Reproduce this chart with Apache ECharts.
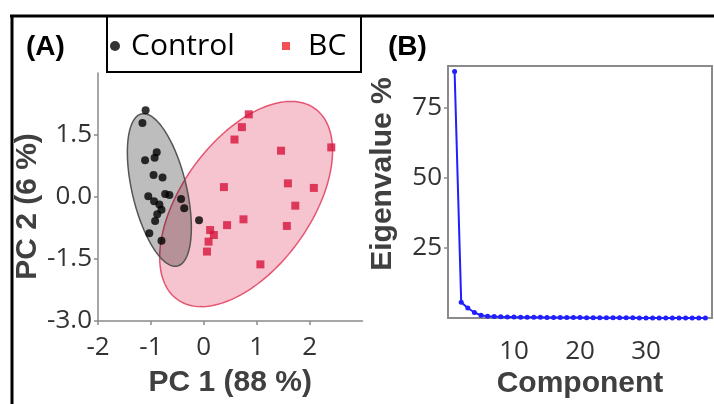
<!DOCTYPE html>
<html>
<head>
<meta charset="utf-8">
<script src="https://cdn.jsdelivr.net/npm/echarts@6/dist/echarts.min.js"></script>
<style>
html,body{margin:0;padding:0;background:#fff;}
#chart{width:714px;height:404px;}
</style>
</head>
<body>
<div id="chart"></div>
<script>
// ---- Panel A: PCA score plot ----
const controlX = [-1.10,-1.16,-0.89,-0.93,-1.11,-0.95,-0.78,-1.05,-0.73,-0.65,-0.94,-0.84,-0.80,-0.88,-0.92,-0.43,-0.37,-0.09,-1.03,-0.80];
const controlY = [2.10,1.79,1.08,0.95,0.89,0.53,0.47,0.02,0.07,0.05,-0.10,-0.18,-0.31,-0.42,-0.58,-0.05,-0.27,-0.56,-0.88,-1.06];
const bcX = [0.85,0.72,0.58,1.46,2.41,0.38,1.59,2.08,1.73,0.75,0.44,1.57,0.12,0.19,0.09,0.06,1.07];
const bcY = [2.00,1.69,1.39,1.12,1.20,0.24,0.33,0.22,-0.21,-0.54,-0.68,-0.70,-0.80,-0.92,-1.08,-1.32,-1.63];
// ellipse: centre x, centre y, half-axis 1 (dx, dy), half-axis 2 (dx, dy) in data units
const controlEllipse = [-0.84, 0.17, -0.34, 1.84, 0.50, 0.15];
const bcEllipse = [0.80, -0.17, 1.30, 2.31, 0.99, -0.91];
const xTicksA = [-2, -1, 0, 1, 2];
const yTicksA = [-3, -1.5, 0, 1.5];

// ---- Panel B: scree plot ----
const components = [1,2,3,4,5,6,7,8,9,10,11,12,13,14,15,16,17,18,19,20,21,22,23,24,25,26,27,28,29,30,31,32,33,34,35,36,37,38,39];
const eigenPct = [88,5.7,3.6,2.0,1.0,0.7,0.55,0.45,0.4,0.35,0.32,0.3,0.28,0.26,0.24,0.22,0.2,0.19,0.18,0.17,0.16,0.15,0.14,0.13,0.12,0.11,0.1,0.09,0.08,0.08,0.07,0.06,0.06,0.05,0.05,0.04,0.04,0.03,0.03];
const xTicksB = [10, 20, 30];
const yTicksB = [25, 50, 75];

const tickFont = "'Liberation Sans Narrow', 'Open Sans', sans-serif";
const titleFont = "'Liberation Sans', Arial, sans-serif";

function ellipseSeries(name, params, fill, stroke) {
  return {
    type: 'custom', name: name, xAxisIndex: 0, yAxisIndex: 0, silent: true, clip: false,
    data: [params],
    encode: {x: 0, y: 1},
    renderItem: function (p, api) {
      const cx = api.value(0), cy = api.value(1), ux = api.value(2), uy = api.value(3), vx = api.value(4), vy = api.value(5);
      const pts = [];
      const n = 160;
      for (let i = 0; i < n; i++) {
        const t = i / n * 2 * Math.PI;
        pts.push(api.coord([cx + ux * Math.cos(t) + vx * Math.sin(t), cy + uy * Math.cos(t) + vy * Math.sin(t)]));
      }
      return {type: 'polygon', shape: {points: pts}, style: {fill: fill, stroke: stroke, lineWidth: 1.5}};
    }
  };
}

const axisGray = '#8a8a8a';
const chart = echarts.init(document.getElementById('chart'), null, {renderer: 'canvas'});
chart.setOption({
  animation: false,
  backgroundColor: '#fff',
  legend: [
    {
      data: [{name: 'Control', icon: 'circle', itemStyle: {color: '#000'}}],
      left: 110, top: 31, padding: 0, itemWidth: 22, itemHeight: 10, selectedMode: false,
      textStyle: {fontFamily: "'Open Sans', sans-serif", fontSize: 30, color: '#000', lineHeight: 30}
    },
    {
      data: [{name: 'BC', icon: 'rect', itemStyle: {color: '#f0262e'}}],
      left: 282, top: 31, padding: 0, itemWidth: 8, itemHeight: 8, selectedMode: false,
      textStyle: {fontFamily: "'Open Sans', sans-serif", fontSize: 30, color: '#000', lineHeight: 30, padding: [0, 0, 0, 13]}
    }
  ],
  grid: [
    {left: 98, top: 73, width: 264.5, height: 248},
    {left: 448, top: 66, width: 264, height: 257, show: true, borderColor: axisGray, borderWidth: 2, backgroundColor: 'transparent'}
  ],
  xAxis: [
    {
      gridIndex: 0, type: 'value', min: -2, max: 3, interval: 1,
      axisLine: {show: true, onZero: false, lineStyle: {color: axisGray, width: 1.5}},
      axisTick: {show: true, length: 4, customValues: xTicksA, lineStyle: {color: axisGray, width: 1.5}},
      axisLabel: {customValues: xTicksA, margin: 14, fontSize: 26, color: '#333', fontFamily: tickFont},
      splitLine: {show: false},
      name: 'PC 1 (88 %)', nameLocation: 'middle', nameGap: 47,
      nameTextStyle: {fontSize: 30, fontWeight: 'bold', color: '#404040', fontFamily: titleFont, lineHeight: 30}
    },
    {
      gridIndex: 1, type: 'value', min: 0, max: 40, interval: 10,
      axisLine: {show: false},
      axisTick: {show: false},
      axisLabel: {customValues: xTicksB, margin: 20, fontSize: 26, color: '#333', fontFamily: tickFont},
      splitLine: {show: false},
      name: 'Component', nameLocation: 'middle', nameGap: 49,
      nameTextStyle: {fontSize: 30, fontWeight: 'bold', color: '#404040', fontFamily: titleFont, lineHeight: 30}
    }
  ],
  yAxis: [
    {
      gridIndex: 0, type: 'value', min: -3, max: 3, interval: 1.5,
      axisLine: {show: true, onZero: false, lineStyle: {color: axisGray, width: 1.5}},
      axisTick: {show: true, length: 4, customValues: yTicksA, lineStyle: {color: axisGray, width: 1.5}},
      axisLabel: {customValues: yTicksA, margin: 6, fontSize: 26, color: '#333', fontFamily: tickFont,
        formatter: function (v) { return v.toFixed(1); }},
      splitLine: {show: false},
      name: 'PC 2 (6 %)', nameLocation: 'middle', nameGap: 52,
      nameTextStyle: {fontSize: 30, fontWeight: 'bold', color: '#404040', fontFamily: titleFont, lineHeight: 30, padding: [0, 19, 0, 0]}
    },
    {
      gridIndex: 1, type: 'value', min: 0, max: 90, interval: 25,
      axisLine: {show: false},
      axisTick: {show: true, length: 4, customValues: yTicksB, lineStyle: {color: axisGray, width: 1.5}},
      axisLabel: {customValues: yTicksB, margin: 6, fontSize: 26, color: '#333', fontFamily: tickFont},
      splitLine: {show: false},
      name: 'Eigenvalue %', nameLocation: 'middle', nameGap: 50,
      nameTextStyle: {fontSize: 30, fontWeight: 'bold', color: '#404040', fontFamily: titleFont, lineHeight: 30, padding: [0, 0, 0, 36]}
    }
  ],
  series: [
    ellipseSeries('BC ellipse', bcEllipse, 'rgba(220,20,60,0.25)', 'rgba(225,70,100,0.9)'),
    ellipseSeries('Control ellipse', controlEllipse, 'rgba(0,0,0,0.26)', '#555'),
    {
      type: 'scatter', name: 'Control', xAxisIndex: 0, yAxisIndex: 0,
      symbol: 'circle', symbolSize: 8, itemStyle: {color: '#000'},
      data: controlX.map((x, i) => [x, controlY[i]])
    },
    {
      type: 'scatter', name: 'BC', xAxisIndex: 0, yAxisIndex: 0,
      symbol: 'rect', symbolSize: 8, itemStyle: {color: '#d7143c'},
      data: bcX.map((x, i) => [x, bcY[i]])
    },
    {
      type: 'line', name: 'Eigenvalue', xAxisIndex: 1, yAxisIndex: 1,
      symbol: 'circle', symbolSize: 5, showSymbol: true,
      lineStyle: {color: '#1f1fff', width: 2}, itemStyle: {color: '#1f1fff'},
      data: components.map((c, i) => [c, eigenPct[i]])
    }
  ],
  graphic: [
    {type: 'line', shape: {x1: 10, y1: 16, x2: 714, y2: 16}, style: {stroke: '#000', lineWidth: 3}, silent: true},
    {type: 'line', shape: {x1: 12, y1: 15, x2: 12, y2: 404}, style: {stroke: '#000', lineWidth: 3}, silent: true},
    {type: 'rect', shape: {x: 107, y: 16, width: 254, height: 56}, style: {fill: 'none', stroke: '#000', lineWidth: 2}, silent: true},
    {type: 'text', x: 26, y: 47, style: {text: '(A)', font: "bold 28px 'Liberation Sans', Arial, sans-serif", fill: '#000', verticalAlign: 'middle'}, silent: true},
    {type: 'text', x: 388, y: 47, style: {text: '(B)', font: "bold 28px 'Liberation Sans', Arial, sans-serif", fill: '#000', verticalAlign: 'middle'}, silent: true}
  ]
});
</script>
</body>
</html>
